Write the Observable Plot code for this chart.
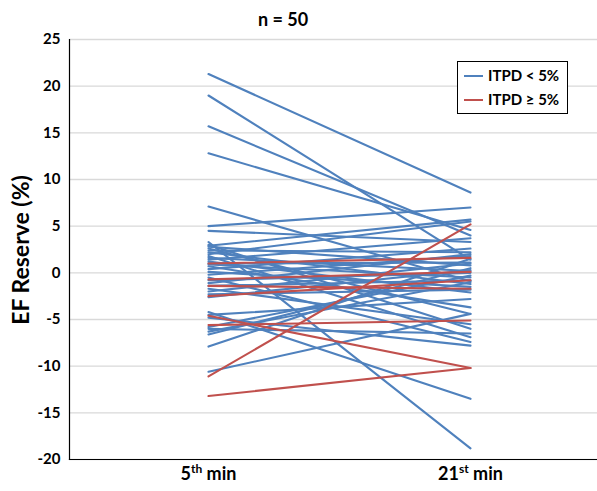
<!DOCTYPE html>
<html><head><meta charset="utf-8">
<script src="https://cdn.jsdelivr.net/npm/d3@7"></script>
<script src="https://cdn.jsdelivr.net/npm/@observablehq/plot@0.6"></script>
<style>
body{margin:0;background:#fff}
#chart svg{font-family:Lato,"Open Sans",sans-serif}
</style>
</head><body><div id="chart"></div>
<script>
const timepoints = ["5th min", "21st min"];
const groups = ["ITPD < 5%", "ITPD ≥ 5%"];
const yTicks = [-20, -15, -10, -5, 0, 5, 10, 15, 20, 25];
const title = "n = 50";
const yLabel = "EF Reserve (%)";

// ITPD < 5% (blue): value at 5th min and at 21st min
const blueStart = [21.3, 19.0, 15.7, 12.8, 7.1, 5.0, 4.5, 3.3, -4.2, -7.9, -10.6,
  3.0, 2.9, 2.8, 2.6, 2.4, 2.2, 2.0, 1.8, 1.6, 1.4, 1.2, 1.0, 0.9, 0.7, 0.4, 0.1,
  -0.2, -0.5, -0.8, -1.1, -1.4, -1.7, -2.0, -2.3, -2.6, -4.5, -4.8, -5.8, -6.0, -6.3, -6.6];
const blueEnd = [8.6, 1.4, 4.0, 4.6, -0.9, 7.0, 3.3, -18.8, -13.5, 1.5, -4.4,
  -6.0, 5.7, 0.8, -4.4, 2.2, -1.2, 5.5, -6.9, 0.2, 3.7, -2.1, 1.1, -0.5, -3.7, 2.6, -1.5,
  1.8, -7.4, 0.0, 2.0, -0.8, -5.5, 1.0, -1.8, 0.3, -2.8, -7.8, -0.3, -6.5, -1.0, 0.5];
// ITPD >= 5% (red)
const redStart = [-13.2, -11.1, -4.6, -5.6, 1.0, -0.7, -1.4, -2.5];
const redEnd = [-10.2, 5.2, -10.2, -5.1, 1.6, 0.1, -1.7, -0.8];

const rows = [];
blueStart.forEach((v, i) => {
  rows.push({id: "b" + i, group: groups[0], time: timepoints[0], value: v});
  rows.push({id: "b" + i, group: groups[0], time: timepoints[1], value: blueEnd[i]});
});
redStart.forEach((v, i) => {
  rows.push({id: "r" + i, group: groups[1], time: timepoints[0], value: v});
  rows.push({id: "r" + i, group: groups[1], time: timepoints[1], value: redEnd[i]});
});
const colors = ["#4F81BD", "#C0504D"];

const plot = Plot.plot({
  width: 597, height: 491,
  marginLeft: 69, marginRight: 0, marginTop: 39, marginBottom: 32,
  style: {fontFamily: "Lato, 'Open Sans', sans-serif", fontWeight: 700, color: "#000", background: "#fff", overflow: "visible"},
  x: {type: "point", domain: timepoints, range: [208, 470], padding: 0, label: null},
  y: {domain: [-20, 25], label: null},
  color: {domain: groups, range: colors},
  marks: [
    Plot.gridY(yTicks, {stroke: "#d9d9d9", strokeOpacity: 1, strokeWidth: 1.3}),
    Plot.axisY(yTicks, {tickSize: 0, tickPadding: 9, fontSize: 15, fontWeight: 700, label: null, tickFormat: d => String(d)}),
    Plot.axisX({tickSize: 0, tickPadding: 8, fontSize: 18, fontWeight: 700, label: null}),
    Plot.line(rows, {x: "time", y: "value", z: "id", stroke: "group", strokeWidth: 2.1}),
    Plot.frame({anchor: "left", stroke: "#000", strokeWidth: 1.2}),
    Plot.frame({anchor: "bottom", stroke: "#000", strokeWidth: 1.2})
  ]
});
document.getElementById("chart").appendChild(plot);

const svg = d3.select(plot);
// superscripts in x tick labels
svg.selectAll("[aria-label='x-axis tick label'] text").each(function() {
  const t = d3.select(this);
  const s = t.text();
  const m = s.match(/^(\d+)(st|nd|rd|th)(.*)$/);
  if (!m) return;
  t.text(null);
  t.append("tspan").text(m[1]);
  t.append("tspan").attr("dy", -7).attr("font-size", 12).text(m[2]);
  t.append("tspan").attr("dy", 7).text(m[3]);
});
// title
svg.append("text").attr("x", 283).attr("y", 26).attr("text-anchor", "middle")
  .attr("font-size", 18).attr("font-weight", 700).attr("fill", "#000").text(title);
// y label
svg.append("text").attr("transform", "translate(29,250) rotate(-90)").attr("text-anchor", "middle")
  .attr("font-size", 23).attr("font-weight", 700).attr("fill", "#000").text(yLabel);
// legend
const lg = svg.append("g");
lg.append("rect").attr("x", 457.5).attr("y", 61.5).attr("width", 110).attr("height", 52)
  .attr("fill", "#fff").attr("stroke", "#000").attr("stroke-width", 1);
groups.forEach((g, i) => {
  const y = 76 + i * 24;
  lg.append("line").attr("x1", 464).attr("x2", 483).attr("y1", y).attr("y2", y)
    .attr("stroke", colors[i]).attr("stroke-width", 2);
  lg.append("text").attr("x", 488).attr("y", y).attr("dy", "0.35em").attr("text-anchor", "start")
    .attr("font-size", 15).attr("font-weight", 700).attr("fill", "#000").text(g);
});
</script>
</body></html>
